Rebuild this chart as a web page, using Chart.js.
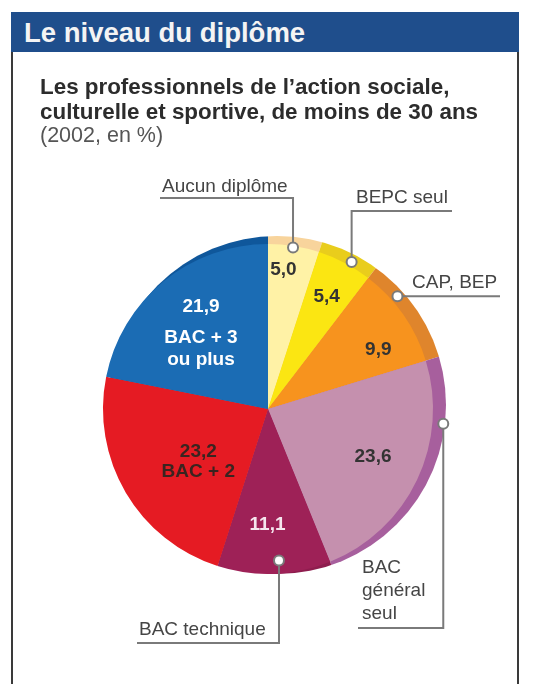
<!DOCTYPE html>
<html><head><meta charset="utf-8">
<script src="https://cdn.jsdelivr.net/npm/chart.js@4"></script>
<style>
html,body{margin:0;padding:0;background:#fff;}
body{width:536px;height:684px;position:relative;overflow:hidden;font-family:"Liberation Sans",Arial,sans-serif;}
#chart{position:absolute;left:0;top:0;}
#panel{position:absolute;left:11px;top:12px;width:504px;height:700px;border-left:2px solid #3a3a3a;border-right:2px solid #3a3a3a;}
#header{position:absolute;left:11px;top:12px;width:508px;height:40px;background:#1f4e8c;color:#f4f4f4;font-weight:bold;font-size:27.5px;line-height:41px;padding-left:13px;box-sizing:border-box;white-space:nowrap;}
.t{position:absolute;left:40px;white-space:nowrap;}
#t1,#t2{font-weight:bold;font-size:22.4px;line-height:24px;color:#2c2c2c;}
#t1{top:75px;} #t2{top:100px;}
#t3{top:123px;font-size:21.5px;line-height:24px;color:#555;}
</style></head>
<body>
<canvas id="chart" width="536" height="684"></canvas>
<div id="panel"></div>
<div id="header">Le niveau du diplôme</div>
<div class="t" id="t1">Les professionnels de l’action sociale,</div>
<div class="t" id="t2">culturelle et sportive, de moins de 30 ans</div>
<div class="t" id="t3">(2002, en %)</div>
<script>
// ---- data ----
const categories = ['Aucun diplôme', 'BEPC seul', 'CAP, BEP', 'BAC général seul', 'BAC technique', 'BAC + 2', 'BAC + 3 ou plus'];
const values = [5.0, 5.4, 9.9, 23.6, 11.1, 23.2, 21.9];
const faceColors = ['#fff2a6', '#fbe612', '#f7931e', '#c590ae', '#9e2157', '#e51b23', '#1b6cb4'];
const rimColors = ['#f8d49c', '#e9cd1c', '#df852c', '#a75f9d', '#8e1d4e', '#c8171e', '#0f579b'];

// ---- inner label layout: [fraction along slice, fraction of radius] ----
const innerExtra = [[], [], [], [], [], ['BAC + 2'], ['BAC + 3', 'ou plus']];
const innerPos = [[0.35, 0.85], [0.49, 0.77], [0.68, 0.76], [0.49, 0.70], [0.56, 0.70], [0.42, 0.53], [0.47, 0.61]];
const innerOffsets = [[0], [0], [0], [0], [0], [-10, 10], [-27, 4, 26]];
const innerColors = ['#333', '#333', '#333', '#333', '#f5e6ee', '#3a2420', '#ffffff'];

// ---- outer leader label layout ----
const leaderSlices = [0, 1, 2, 3, 4];
const leaderAnchor = [[0.49, 0.99], [0.60, 1.025], [0.325, 1.04], [0.257, 1.066], [0.45, 0.92]];
const leaderLineY = [198, 211, null, 628, 643];
const leaderEndX = [160, 452, 500, 358, 137];
const leaderText = [['Aucun diplôme'], ['BEPC seul'], ['CAP, BEP'], ['BAC', 'général', 'seul'], ['BAC technique']];
const leaderTextX = [162, 356, 412, 362, 139];
const leaderTextY = [[192], [203], [288], [573, 596, 619], [635]];

const fmt = v => v.toFixed(1).replace('.', ',');
const FONT = '"Liberation Sans", Arial, sans-serif';

function slicePoint(arc, fa, fr) {
  const a = arc.startAngle + (arc.endAngle - arc.startAngle) * fa;
  const r = arc.outerRadius * fr;
  return [arc.x + Math.cos(a) * r, arc.y + Math.sin(a) * r];
}

const rimPlugin = {
  id: 'rim',
  beforeDatasetsDraw(chart) {
    const ctx = chart.ctx;
    const arcs = chart.getDatasetMeta(0).data;
    if (!arcs.length) return;
    const a0 = arcs[0];
    ctx.save();
    ctx.beginPath();
    ctx.arc(a0.x + 9, a0.y - 4, a0.outerRadius + 4, 0, Math.PI * 2);
    ctx.clip();
    arcs.forEach((arc, i) => {
      ctx.beginPath();
      ctx.moveTo(arc.x, arc.y);
      ctx.arc(arc.x, arc.y, arc.outerRadius + 40, arc.startAngle, arc.endAngle);
      ctx.closePath();
      ctx.fillStyle = rimColors[i];
      ctx.fill();
    });
    ctx.restore();
  }
};

const labelPlugin = {
  id: 'labels',
  afterDatasetsDraw(chart) {
    const ctx = chart.ctx;
    const arcs = chart.getDatasetMeta(0).data;
    ctx.save();
    // inner labels
    ctx.textAlign = 'center';
    ctx.textBaseline = 'middle';
    ctx.font = 'bold 19px ' + FONT;
    arcs.forEach((arc, i) => {
      const [x, y] = slicePoint(arc, innerPos[i][0], innerPos[i][1]);
      const lines = [fmt(values[i])].concat(innerExtra[i]);
      ctx.fillStyle = innerColors[i];
      lines.forEach((t, k) => ctx.fillText(t, x, y + innerOffsets[i][k]));
    });
    // leaders
    leaderSlices.forEach((s, j) => {
      const arc = arcs[s];
      const [cx, cy] = slicePoint(arc, leaderAnchor[j][0], leaderAnchor[j][1]);
      const ly = leaderLineY[j] === null ? cy : leaderLineY[j];
      ctx.strokeStyle = '#7a7a7a';
      ctx.lineWidth = 2;
      ctx.beginPath();
      ctx.moveTo(cx, cy);
      ctx.lineTo(cx, ly);
      ctx.lineTo(leaderEndX[j], ly);
      ctx.stroke();
      ctx.beginPath();
      ctx.arc(cx, cy, 5, 0, Math.PI * 2);
      ctx.fillStyle = '#ffffff';
      ctx.fill();
      ctx.stroke();
      ctx.fillStyle = '#454545';
      ctx.font = '19px ' + FONT;
      ctx.textAlign = 'left';
      ctx.textBaseline = 'alphabetic';
      leaderText[j].forEach((t, k) => ctx.fillText(t, leaderTextX[j], leaderTextY[j][k]));
    });
    ctx.restore();
  }
};

new Chart(document.getElementById('chart'), {
  type: 'pie',
  data: {
    labels: categories,
    datasets: [{ data: values, backgroundColor: faceColors, borderWidth: 0 }]
  },
  options: {
    responsive: false,
    animation: false,
    radius: 165,
    layout: { padding: { left: 103, right: 103, top: 244, bottom: 110 } },
    plugins: { legend: { display: false }, tooltip: { enabled: false }, title: { display: false } }
  },
  plugins: [rimPlugin, labelPlugin]
});
</script>
</body></html>
